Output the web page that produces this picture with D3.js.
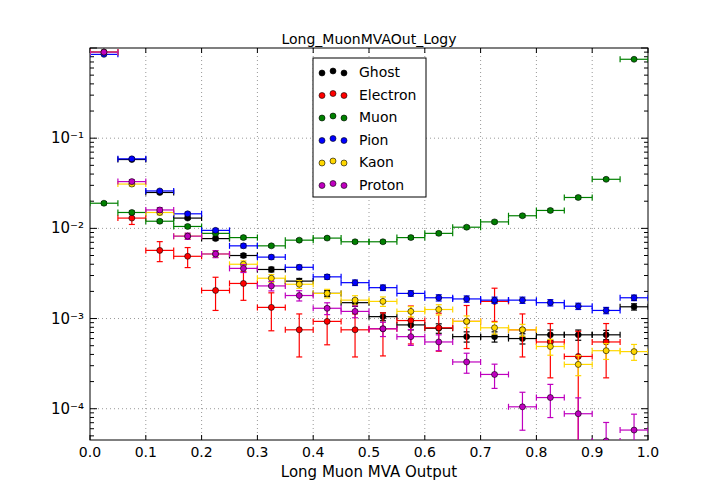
<!DOCTYPE html>
<html><head><meta charset="utf-8">
<script src="https://cdn.jsdelivr.net/npm/d3@7"></script>
<style>body{margin:0;background:#fff;font-family:"DejaVu Sans",sans-serif;}</style>
</head><body><svg id="c" width="720" height="504"></svg>
<script>
// bin centres of the MVA output histogram
const binCenters = [0.025,0.075,0.125,0.175,0.225,0.275,0.325,0.375,0.425,0.475,0.525,0.575,0.625,0.675,0.725,0.775,0.825,0.875,0.925,0.975];
const names = ["Ghost","Electron","Muon","Pion","Kaon","Proton"];
const colors = ["#000000","#ff0000","#008000","#0000ff","#ffd700","#bf00bf"];
const ghost = [0.9,0.058,0.025,0.013,0.0077,0.005,0.0035,0.0026,0.0019,0.0015,0.00105,0.00085,0.00078,0.00063,0.00063,0.0006,0.00066,0.00066,0.00066,0.00135];
const electron = [0.9,0.013,0.0057,0.0049,0.00205,0.00245,0.00133,0.00075,0.00093,0.00075,0.00077,0.00095,0.00079,0.00093,0.00155,0.00075,0.00055,0.00038,0.00055,null];
const muon = [0.019,0.015,0.012,0.0105,0.0088,0.0079,0.0064,0.0074,0.0078,0.0071,0.0071,0.0079,0.0088,0.0103,0.0118,0.0138,0.0158,0.022,0.035,0.75];
const pion = [0.85,0.059,0.026,0.0145,0.0095,0.0064,0.0048,0.0037,0.0029,0.0025,0.0022,0.0019,0.0017,0.00165,0.0016,0.0016,0.0015,0.00137,0.00123,0.0017];
const kaon = [0.9,0.031,0.015,0.0082,0.0052,0.004,0.0028,0.0024,0.0019,0.0016,0.00155,0.0012,0.00126,0.00093,0.00079,0.00075,0.00049,0.00031,0.00044,0.00043];
const proton = [0.9,0.033,0.016,0.0082,0.0052,0.0036,0.0023,0.0018,0.0013,0.0012,0.00077,0.00063,0.00055,0.00033,0.00024,0.000105,0.000133,0.000088,0.000044,0.000058];
// relative errors per bin
const ghostErr = [0.01,0.02,0.03,0.03,0.04,0.05,0.06,0.07,0.08,0.09,0.1,0.12,0.12,0.13,0.13,0.13,0.13,0.13,0.12,0.08];
const electronErr = [0.01,0.15,0.25,0.25,0.4,0.35,0.45,0.5,0.45,0.5,0.5,0.45,0.45,0.5,0.4,0.5,0.6,0.9,0.6,0];
const muonErr = [0.04,0.04,0.04,0.04,0.04,0.04,0.04,0.04,0.04,0.04,0.04,0.04,0.04,0.04,0.04,0.04,0.04,0.04,0.03,0.01];
const pionErr = [0.01,0.03,0.03,0.04,0.04,0.05,0.05,0.06,0.06,0.07,0.07,0.07,0.08,0.08,0.08,0.08,0.08,0.08,0.08,0.07];
const kaonErr = [0.01,0.05,0.06,0.07,0.08,0.09,0.1,0.1,0.11,0.12,0.12,0.13,0.13,0.15,0.15,0.15,0.2,0.25,0.2,0.2];
const protonErr = [0.01,0.05,0.06,0.08,0.09,0.1,0.12,0.13,0.15,0.15,0.18,0.2,0.2,0.25,0.3,0.45,0.4,0.5,0.6,0.5];
const yTicks = [1e-4,1e-3,1e-2,1e-1];
const yTickLabels = ["10⁻⁴","10⁻³","10⁻²","10⁻¹"];

const series = [ghost,electron,muon,pion,kaon,proton];
const errs = [ghostErr,electronErr,muonErr,pionErr,kaonErr,protonErr];

const L=90,R=648,T=48,B=440;
const svg=d3.select("#c");
const x=d3.scaleLinear().domain([0,1]).range([L,R]);
const y=d3.scaleLog().domain([4.5e-5,1.0]).range([B,T]);

svg.append("clipPath").attr("id","clip").append("rect").attr("x",L).attr("y",T).attr("width",R-L).attr("height",B-T);

// grid
const g=svg.append("g").attr("stroke","#999").attr("stroke-dasharray","1,3").attr("stroke-width",1);
d3.range(0.1,1,0.1).forEach(v=>g.append("line").attr("x1",x(v)).attr("x2",x(v)).attr("y1",T).attr("y2",B));
yTicks.forEach(v=>g.append("line").attr("x1",L).attr("x2",R).attr("y1",y(v)).attr("y2",y(v)));

// ticks
const tk=svg.append("g").attr("stroke","#000");
d3.range(0,1.0001,0.1).forEach(v=>{
  tk.append("line").attr("x1",x(v)).attr("x2",x(v)).attr("y1",B).attr("y2",B-5);
  tk.append("line").attr("x1",x(v)).attr("x2",x(v)).attr("y1",T).attr("y2",T+5);
});
for(let e=-5;e<=0;e++) for(let m=1;m<10;m++){
  const v=m*Math.pow(10,e); if(v<4.5e-5||v>1) continue;
  const len=m===1?7:4;
  tk.append("line").attr("x1",L).attr("x2",L+len).attr("y1",y(v)).attr("y2",y(v));
  tk.append("line").attr("x1",R).attr("x2",R-len).attr("y1",y(v)).attr("y2",y(v));
}
svg.append("rect").attr("x",L).attr("y",T).attr("width",R-L).attr("height",B-T).attr("fill","none").attr("stroke","#000");

d3.range(0,1.0001,0.1).forEach(v=>svg.append("text").attr("x",x(v)).attr("y",B+17).attr("text-anchor","middle").attr("font-size",14).text(v.toFixed(1)));
yTicks.forEach((v,i)=>svg.append("text").attr("x",L-6).attr("y",y(v)+5).attr("text-anchor","end").attr("font-size",15).text(yTickLabels[i]));
svg.append("text").attr("x",(L+R)/2).attr("y",477).attr("text-anchor","middle").attr("font-size",15).text("Long Muon MVA Output");
svg.append("text").attr("x",(L+R)/2).attr("y",44).attr("text-anchor","middle").attr("font-size",14).text("Long_MuonMVAOut_Logy");

// data
const pl=svg.append("g").attr("clip-path","url(#clip)");
const hw=0.025;
series.forEach((s,k)=>{
  const c=colors[k];
  binCenters.forEach((cx,i)=>{
    const v=s[i]; if(v==null) return;
    const yy=y(v), e=errs[k][i];
    const grp=pl.append("g").attr("stroke",c).attr("stroke-width",1.2);
    grp.append("line").attr("x1",x(cx-hw)).attr("x2",x(cx+hw)).attr("y1",yy).attr("y2",yy);
    [cx-hw,cx+hw].forEach(xx=>grp.append("line").attr("x1",x(xx)).attr("x2",x(xx)).attr("y1",yy-3).attr("y2",yy+3));
    if(e>0){
      const y1=y(v*(1+e)), y2=y(Math.max(v*(1-e),1e-6));
      grp.append("line").attr("x1",x(cx)).attr("x2",x(cx)).attr("y1",y1).attr("y2",y2);
      [y1,y2].forEach(t=>grp.append("line").attr("x1",x(cx)-3).attr("x2",x(cx)+3).attr("y1",t).attr("y2",t));
    }
    pl.append("circle").attr("cx",x(cx)).attr("cy",yy).attr("r",3).attr("fill",c).attr("stroke","#000").attr("stroke-width",0.6);
  });
});

// legend
const lg=svg.append("g");
lg.append("rect").attr("x",313).attr("y",58).attr("width",113).attr("height",139).attr("fill","#fff").attr("stroke","#000");
names.forEach((n,i)=>{
  const yy=72+i*22.5;
  [322,333,344].forEach((xx,j)=>lg.append("circle").attr("cx",xx).attr("cy",yy+(j===1?-1:1)).attr("r",3).attr("fill",colors[i]).attr("stroke","#000").attr("stroke-width",0.6));
  lg.append("text").attr("x",359).attr("y",yy+5).attr("font-size",14).text(n);
});
</script></body></html>
